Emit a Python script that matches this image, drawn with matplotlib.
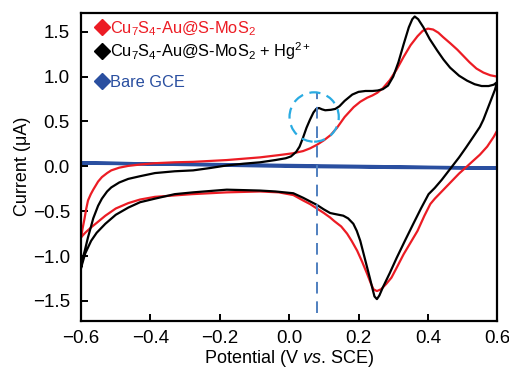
import matplotlib
matplotlib.use("Agg")
import matplotlib.pyplot as plt
from matplotlib.patches import Ellipse

plt.rcParams["font.family"] = "Liberation Sans"
plt.rcParams["mathtext.fontset"] = "custom"
plt.rcParams["mathtext.rm"] = "Liberation Sans"
plt.rcParams["mathtext.it"] = "Liberation Sans:italic"
plt.rcParams["mathtext.default"] = "regular"

# Cu7S4-Au@S-MoS2 (red): anodic branch, then cathodic branch
red_up_v = [-0.600, -0.596, -0.590, -0.585, -0.580, -0.572, -0.565, -0.551, -0.540, -0.525,
            -0.513, -0.490, -0.464, -0.430, -0.387, -0.330, -0.277, -0.180, -0.084, -0.030,
            0.010, 0.040, 0.060, 0.080, 0.100, 0.120, 0.138, 0.160, 0.186, 0.205,
            0.225, 0.240, 0.254, 0.270, 0.290, 0.310, 0.330, 0.350, 0.370, 0.385,
            0.400, 0.415, 0.430, 0.444, 0.465, 0.485, 0.500, 0.520, 0.540, 0.560,
            0.580, 0.600]
red_up_i = [-0.79, -0.70, -0.58, -0.47, -0.38, -0.31, -0.26, -0.17, -0.12, -0.075,
            -0.045, -0.015, 0.005, 0.02, 0.035, 0.045, 0.05, 0.07, 0.10, 0.125,
            0.145, 0.17, 0.20, 0.24, 0.29, 0.35, 0.43, 0.55, 0.66, 0.72,
            0.765, 0.79, 0.82, 0.87, 0.96, 1.08, 1.22, 1.35, 1.45, 1.51,
            1.535, 1.525, 1.49, 1.44, 1.37, 1.30, 1.24, 1.16, 1.09, 1.045,
            1.015, 1.00]
red_dn_v = [0.600, 0.600, 0.590, 0.571, 0.550, 0.530, 0.513, 0.490, 0.470, 0.440,
            0.420, 0.407, 0.390, 0.370, 0.350, 0.330, 0.310, 0.295, 0.280, 0.265,
            0.253, 0.243, 0.235, 0.225, 0.210, 0.196, 0.180, 0.167, 0.150, 0.130,
            0.118, 0.100, 0.080, 0.060, 0.040, 0.012, -0.030, -0.084, -0.180, -0.280,
            -0.387, -0.430, -0.464, -0.500, -0.530, -0.555, -0.571, -0.588, -0.600]
red_dn_i = [1.00, 0.40, 0.33, 0.22, 0.13, 0.06, 0.00, -0.08, -0.16, -0.28,
            -0.36, -0.42, -0.55, -0.72, -0.85, -0.98, -1.13, -1.24, -1.31, -1.37,
            -1.39, -1.37, -1.30, -1.20, -1.06, -0.94, -0.83, -0.75, -0.67, -0.61,
            -0.57, -0.52, -0.47, -0.42, -0.38, -0.32, -0.29, -0.28, -0.29, -0.31,
            -0.34, -0.37, -0.41, -0.47, -0.55, -0.63, -0.68, -0.74, -0.79]

# Cu7S4-Au@S-MoS2 + Hg2+ (black)
blk_up_v = [-0.600, -0.596, -0.590, -0.580, -0.572, -0.565, -0.551, -0.540, -0.525, -0.513,
            -0.490, -0.464, -0.430, -0.387, -0.330, -0.277, -0.230, -0.180, -0.130, -0.084,
            -0.040, -0.010, 0.005, 0.020, 0.030, 0.040, 0.050, 0.060, 0.070, 0.078,
            0.086, 0.095, 0.104, 0.120, 0.133, 0.145, 0.160, 0.182, 0.200, 0.220,
            0.240, 0.255, 0.270, 0.285, 0.300, 0.315, 0.330, 0.345, 0.355, 0.362,
            0.372, 0.387, 0.405, 0.427, 0.445, 0.464, 0.490, 0.513, 0.535, 0.555,
            0.575, 0.590, 0.600]
blk_up_i = [-1.13, -1.03, -0.95, -0.79, -0.68, -0.58, -0.44, -0.36, -0.28, -0.235,
            -0.18, -0.14, -0.11, -0.075, -0.055, -0.045, -0.02, 0.01, 0.03, 0.045,
            0.07, 0.09, 0.11, 0.16, 0.22, 0.32, 0.43, 0.52, 0.60, 0.64,
            0.65, 0.635, 0.625, 0.63, 0.64, 0.67, 0.73, 0.80, 0.83, 0.84,
            0.84, 0.845, 0.86, 0.90, 1.00, 1.16, 1.36, 1.55, 1.64, 1.67,
            1.64, 1.55, 1.42, 1.29, 1.19, 1.10, 1.01, 0.955, 0.915, 0.895,
            0.895, 0.91, 0.94]
blk_dn_v = [0.600, 0.593, 0.585, 0.571, 0.560, 0.550, 0.531, 0.510, 0.490, 0.470,
            0.440, 0.420, 0.402, 0.380, 0.358, 0.335, 0.310, 0.290, 0.270, 0.260,
            0.253, 0.246, 0.240, 0.233, 0.225, 0.215, 0.205, 0.195, 0.185, 0.170,
            0.156, 0.130, 0.118, 0.100, 0.080, 0.060, 0.040, 0.012, -0.040, -0.084,
            -0.180, -0.277, -0.330, -0.387, -0.430, -0.464, -0.500, -0.530, -0.555, -0.571,
            -0.588, -0.600]
blk_dn_i = [0.94, 0.85, 0.77, 0.63, 0.52, 0.44, 0.33, 0.21, 0.10, 0.00,
            -0.15, -0.24, -0.31, -0.47, -0.64, -0.82, -1.02, -1.19, -1.35, -1.44,
            -1.48, -1.45, -1.36, -1.25, -1.13, -0.98, -0.83, -0.72, -0.64, -0.58,
            -0.55, -0.53, -0.52, -0.48, -0.43, -0.39, -0.35, -0.30, -0.28, -0.27,
            -0.26, -0.29, -0.31, -0.36, -0.40, -0.46, -0.54, -0.64, -0.74, -0.83,
            -0.97, -1.13]

# Bare GCE (blue)
gce_v = [-0.600, -0.300, 0.000, 0.300, 0.600, 0.300, 0.000, -0.300, -0.600]
gce_i = [0.035, 0.025, 0.010, -0.005, -0.020, -0.012, 0.000, 0.020, 0.040]

labels = ["Cu$_7$S$_4$-Au@S-MoS$_2$", "Cu$_7$S$_4$-Au@S-MoS$_2$ + Hg$^{2+}$", "Bare GCE"]
colors = ["#ec1c24", "#000000", "#2a4fa0"]

fig = plt.figure(figsize=(5.10, 3.69), dpi=100)
ax = fig.add_axes([0.159, 0.131, 0.816, 0.834])

ax.plot(red_up_v + red_dn_v, red_up_i + red_dn_i, color=colors[0], lw=1.6, zorder=3)
ax.plot(blk_up_v + blk_dn_v, blk_up_i + blk_dn_i, color=colors[1], lw=1.6, zorder=4)
ax.plot(gce_v, gce_i, color=colors[2], lw=2.4, zorder=2)

# marker at the pre-peak
ax.plot([0.08, 0.08], [-1.64, 0.82], color="#4f7fbf", lw=1.4, ls=(0, (6, 4)), zorder=5)
ax.add_patch(Ellipse((0.072, 0.55), 0.142, 0.55, fill=False, ec="#29abe2",
                     lw=1.6, ls=(0, (5, 3)), zorder=5))

ax.set_xlim(-0.6, 0.6)
ax.set_ylim(-1.72, 1.71)
ax.set_xticks([-0.6, -0.4, -0.2, 0.0, 0.2, 0.4, 0.6])
ax.set_yticks([-1.5, -1.0, -0.5, 0.0, 0.5, 1.0, 1.5])
ax.tick_params(direction="in", length=5, width=1.4, labelsize=13.5)
ax.tick_params(axis="x", pad=6.5)
ax.tick_params(axis="y", pad=8)
for s in ax.spines.values():
    s.set_linewidth(1.6)
    s.set_zorder(6)

ax.set_xlabel("Potential (V $\\it{vs}$. SCE)", fontsize=13, labelpad=1.2)
ax.set_ylabel("Current (\u03bcA)", fontsize=13, labelpad=1)

# legend rows: diamond + coloured text
row_mark_y = [0.953, 0.8765, 0.779]
row_text_y = [0.935, 0.857, 0.7595]
for lab, c, my, ty in zip(labels, colors, row_mark_y, row_text_y):
    ax.plot([0.0505], [my], marker="D", ms=8.5, color=c, ls="none",
            transform=ax.transAxes, clip_on=False, zorder=7)
    ax.text(0.0697, ty, lab, color=c, fontsize=11.8, va="baseline", ha="left",
            transform=ax.transAxes, zorder=7)

fig.savefig("out.png", dpi=100)
